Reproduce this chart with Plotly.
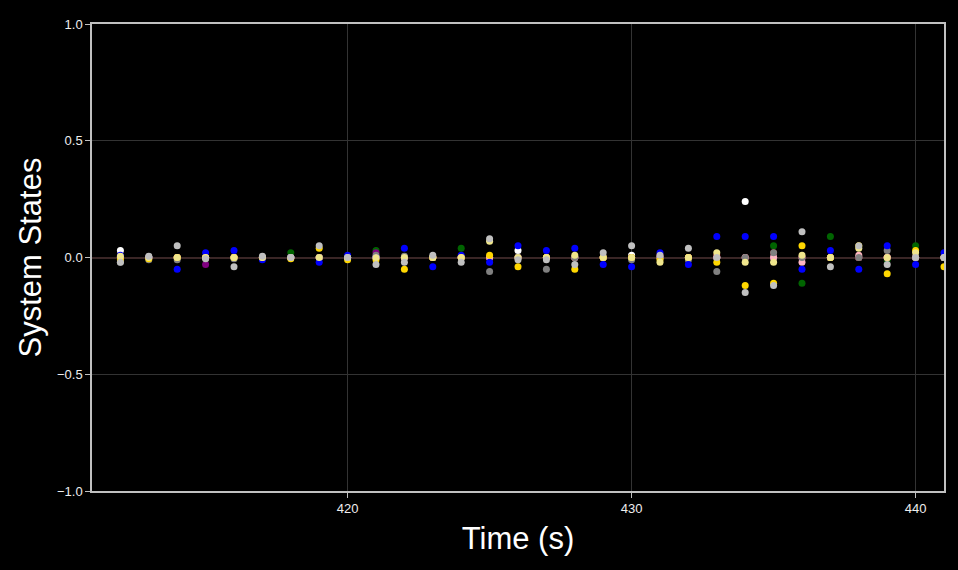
import plotly.graph_objects as go

times = list(range(412, 442))

white  = [0.03, 0.0, 0.0, 0.0, 0.0, 0.0, 0.0, 0.0, 0.0, 0.0, 0.0, 0.0, 0.0, 0.0, 0.03, 0.0, 0.0, 0.0, 0.01, 0.0, 0.0, 0.0, 0.24, 0.0, 0.0, 0.0, 0.0, 0.0, 0.0, 0.0]
green  = [0.0, 0.0, 0.0, 0.0, 0.0, 0.0, 0.02, 0.0, 0.0, 0.03, 0.0, 0.0, 0.04, 0.0, 0.0, 0.0, 0.0, 0.0, 0.0, 0.0, 0.0, 0.0, 0.0, 0.05, -0.11, 0.09, 0.0, -0.01, 0.05, 0.0]
purple = [0.0, 0.0, 0.0, -0.03, 0.0, 0.0, 0.0, 0.0, 0.0, 0.02, 0.0, 0.0, 0.0, 0.0, 0.0, 0.0, 0.0, 0.0, 0.0, 0.0, 0.0, 0.0, 0.0, 0.0, 0.0, 0.0, 0.0, 0.0, 0.0, 0.0]
brown  = [0.0, 0.0, 0.0, 0.0, 0.0, 0.0, 0.0, 0.0, 0.0, 0.0, 0.0, 0.0, 0.0, 0.0, 0.0, 0.0, 0.0, 0.0, 0.0, 0.01, 0.0, 0.01, 0.0, 0.02, 0.0, 0.0, 0.0, 0.0, 0.0, 0.0]
pink   = [0.0, 0.0, 0.0, 0.0, 0.0, 0.0, 0.0, 0.0, 0.0, 0.0, 0.0, 0.0, 0.0, 0.0, 0.0, 0.0, 0.0, 0.0, 0.0, 0.0, 0.0, 0.0, 0.0, 0.0, -0.02, 0.0, 0.01, 0.0, 0.0, 0.0]
gray   = [-0.02, -0.01, -0.01, 0.0, -0.005, 0.0, 0.0, 0.0, 0.0, 0.01, 0.005, 0.0, 0.0, -0.06, 0.0, -0.05, 0.0, 0.0, -0.01, 0.0, -0.01, -0.06, 0.0, 0.02, 0.0, 0.0, 0.0, 0.03, 0.0, 0.0]
gold   = [-0.01, -0.005, 0.0, 0.0, 0.0, 0.0, -0.005, 0.04, -0.01, -0.01, -0.05, 0.0, 0.0, 0.01, -0.04, 0.0, -0.05, 0.0, 0.0, -0.01, 0.0, -0.02, -0.12, -0.11, 0.05, 0.0, 0.05, -0.07, 0.03, -0.04]
yellow = [0.005, 0.0, 0.0, 0.0, 0.0, 0.0, 0.0, 0.0, 0.0, 0.0, 0.0, 0.0, 0.0, 0.07, 0.0, 0.0, 0.01, 0.0, 0.0, -0.02, 0.0, 0.02, -0.02, -0.02, 0.01, 0.0, 0.04, 0.0, 0.02, 0.0]
silver = [-0.02, 0.005, 0.05, -0.005, -0.04, 0.005, 0.0, 0.05, 0.0, -0.03, -0.02, 0.01, -0.02, 0.08, -0.01, -0.01, -0.03, 0.02, 0.05, 0.01, 0.04, 0.0, -0.15, -0.12, 0.11, -0.04, 0.05, -0.03, 0.0, 0.0]
blue   = [0.01, 0.0, -0.05, 0.02, 0.03, -0.01, 0.0, -0.02, 0.01, 0.0, 0.04, -0.04, 0.01, -0.02, 0.05, 0.03, 0.04, -0.03, -0.04, 0.02, -0.03, 0.09, 0.09, 0.09, -0.05, 0.03, -0.05, 0.05, -0.03, 0.02]

series = [
    ("white", white, "#FFFFFF"),
    ("green", green, "#006400"),
    ("purple", purple, "#800080"),
    ("brown", brown, "#A52A2A"),
    ("pink", pink, "#FFB6C1"),
    ("gray", gray, "#808080"),
    ("blue", blue, "#0000FF"),
    ("gold", gold, "#FFD700"),
    ("yellow", yellow, "#F0E68C"),
    ("silver", silver, "#C0C0C0"),
]

fig = go.Figure()
for name, vals, col in series:
    fig.add_trace(go.Scatter(x=times, y=vals, mode="markers", name=name,
                             marker=dict(color=col, size=7, line=dict(width=0))))

axis_common = dict(showline=True, linecolor="#c0c0c0", linewidth=1.5, mirror=True,
                   ticks="outside", ticklen=5, tickcolor="#c0c0c0",
                   gridcolor="#333333", gridwidth=1,
                   tickfont=dict(family="Liberation Sans, Arial", size=13, color="#eeeeee"))

fig.update_layout(
    width=958, height=570,
    paper_bgcolor="black", plot_bgcolor="black",
    showlegend=False,
    margin=dict(l=92, r=14, t=24, b=79),
    font=dict(family="Liberation Sans, Arial", color="white"),
    xaxis=dict(range=[411, 441], tickvals=[420, 430, 440], zeroline=False,
               title=dict(text="Time (s)", font=dict(size=31, color="white"), standoff=12),
               **axis_common),
    yaxis=dict(range=[-1, 1], tickvals=[-1, -0.5, 0, 0.5, 1], tickformat=".1f",
               zeroline=True, zerolinecolor="#3a2626", zerolinewidth=1.5,
               title=dict(text="System States", font=dict(size=31, color="white"), standoff=6),
               **axis_common),
)

fig.write_html("out.html", config={"displayModeBar": False},
               post_script="document.body.style.margin='0';document.body.style.background='black';")
